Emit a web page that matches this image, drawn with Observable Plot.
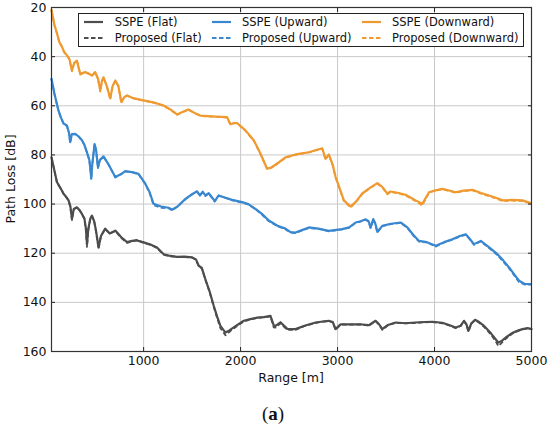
<!DOCTYPE html>
<html>
<head>
<meta charset="utf-8">
<script src="https://cdn.jsdelivr.net/npm/d3@7"></script>
<script src="https://cdn.jsdelivr.net/npm/@observablehq/plot@0.6"></script>
<style>
  html, body { margin: 0; padding: 0; background: #fff; }
  #wrap { position: relative; width: 550px; height: 425px; font-family: "DejaVu Sans", sans-serif; }
  #legend { position: absolute; left: 78px; top: 13px; width: 446px; height: 34px; border: 1px solid #222; background: #fff; box-sizing: border-box; }
  .li { position: absolute; font-size: 11.5px; color: #111; white-space: nowrap; line-height: 14px; }
  .sw { position: absolute; }
  #ylab { position: absolute; left: 10px; top: 179px; transform: translate(-50%, -50%) rotate(-90deg); font-size: 12.5px; color: #111; white-space: nowrap; }
  #xlab { position: absolute; left: 291px; top: 377px; transform: translate(-50%, -50%); font-size: 12.5px; color: #111; white-space: nowrap; }
  #cap { position: absolute; left: 273px; top: 414px; transform: translate(-50%, -50%); font-family: "Liberation Serif", "DejaVu Serif", serif; font-size: 19px; color: #111; white-space: nowrap; }
</style>
</head>
<body>
<div id="wrap"></div>
<script>
// ---------- data ----------
const xTicks = [1000, 2000, 3000, 4000, 5000];
const yTicks = [20, 40, 60, 80, 100, 120, 140, 160];

const flatR = [50, 106, 150, 174, 200, 226, 245, 261, 280, 312, 340, 364, 390, 405, 416, 430, 450, 467, 490, 510, 535, 560, 604, 650, 708, 770, 829, 880, 932, 1000, 1070, 1138, 1207, 1260, 1345, 1420, 1500, 1540, 1568, 1600, 1637, 1680, 1723, 1760, 1792, 1844, 1880, 1929, 2033, 2100, 2171, 2240, 2308, 2342, 2360, 2411, 2481, 2566, 2660, 2773, 2850, 2910, 2950, 2980, 3031, 3150, 3250, 3323, 3392, 3430, 3461, 3520, 3599, 3700, 3800, 3900, 3978, 4080, 4150, 4218, 4270, 4304, 4330, 4349, 4380, 4418, 4460, 4511, 4580, 4630, 4659, 4700, 4735, 4800, 4860, 4907, 4960, 5000];
const flatSSPE = [81, 91, 94, 95.8, 97, 98.5, 101, 106, 102, 101.3, 102.5, 104, 106, 110, 116.2, 110, 106, 104.7, 107, 111, 117.6, 113, 110, 112, 110.8, 113.5, 115.5, 115, 114.8, 115.6, 116.5, 117.7, 120.4, 121, 121.5, 121.4, 121.7, 122.5, 125.1, 126, 130.6, 135.5, 141.4, 146, 149.6, 152.3, 151.5, 150.2, 147.5, 146.8, 146.2, 146, 145.5, 149.4, 149.6, 148.1, 150.8, 150.9, 149.5, 148.2, 147.8, 147.5, 148, 150.9, 148.9, 149, 149, 149.3, 147.5, 149, 150.9, 149.2, 148.2, 148.5, 148.2, 148, 147.9, 148.3, 149.2, 150.2, 149.5, 147.5, 149, 151.6, 148.5, 147.1, 148, 149.6, 152.5, 155, 156.4, 155.5, 154.3, 152.5, 151.5, 150.9, 150.5, 150.9];
const flatProp = [81, 91.2, 94, 95.8, 97.2, 98.5, 101.5, 106.5, 102, 101.5, 102.5, 104.2, 106, 111, 117.4, 110.5, 106, 104.9, 107, 111.5, 118.3, 113, 110.2, 112, 111, 113.8, 115.8, 115.2, 114.6, 115.8, 116.5, 117.9, 120.6, 121.2, 121.5, 121.6, 121.7, 122.8, 125.3, 126.2, 130.8, 135.8, 141.8, 146.6, 150.5, 153.4, 152.2, 150.6, 147.8, 146.9, 146.4, 146, 145.8, 150.2, 150.3, 148.5, 151.2, 151.2, 149.6, 148.4, 147.8, 147.6, 148.2, 151.2, 149, 149.1, 149, 149.5, 147.6, 149.2, 151.2, 149.3, 148.3, 148.5, 148.4, 148.1, 148, 148.5, 149.4, 150.5, 149.6, 147.7, 149.2, 152, 148.7, 147.3, 148.3, 150, 153, 155.8, 157.8, 156.2, 154.8, 152.8, 151.6, 151, 150.6, 150.9];

const upR = [50, 80, 122, 150, 174, 209, 230, 243, 260, 295, 330, 364, 390, 416, 440, 452, 460, 470, 494, 510, 529, 550, 587, 640, 708, 760, 811, 880, 948, 1017, 1060, 1103, 1180, 1258, 1293, 1350, 1431, 1500, 1551, 1580, 1610, 1637, 1671, 1700, 1733, 1774, 1850, 1913, 2016, 2080, 2153, 2220, 2291, 2380, 2463, 2515, 2566, 2640, 2704, 2800, 2910, 3048, 3120, 3186, 3240, 3289, 3320, 3341, 3368, 3390, 3410, 3461, 3550, 3650, 3720, 3780, 3840, 3920, 4012, 4100, 4184, 4260, 4322, 4360, 4407, 4477, 4560, 4649, 4710, 4769, 4820, 4872, 4930, 4993];
const upSSPE = [49, 55, 62, 65, 67.2, 68, 71, 74.8, 71.5, 71.4, 72.5, 74, 76, 79, 82, 86, 89.6, 84, 75.6, 78, 85, 82, 80.6, 84, 89, 88, 86.6, 87, 87.7, 91.7, 95, 99.9, 101, 101.5, 102.3, 101, 97.9, 96, 94.8, 96.5, 95, 96.5, 95.6, 97, 98.8, 96.5, 97.5, 98.3, 99.2, 100, 102, 104, 106.7, 108.8, 110, 111.4, 111.6, 110.5, 109.5, 110, 110.9, 110.2, 109.5, 107.5, 107, 106.2, 107, 109.5, 106.1, 108, 111.3, 108.9, 108, 107.5, 109.5, 112.5, 115, 115.5, 117, 115.5, 114.3, 113, 112.3, 114, 116.3, 115, 117.5, 120.4, 123, 125.8, 128.5, 131.2, 132.5, 132.6];
const upProp = [49, 55.2, 62, 65.2, 67.2, 68.3, 71, 75.2, 71.5, 71.6, 72.5, 74.2, 76, 79.3, 82, 86.5, 90, 84, 75.8, 78.2, 85.4, 82, 80.8, 84, 89.2, 88, 86.8, 87, 87.9, 91.9, 95.3, 100.5, 101.5, 101.7, 102.6, 101, 98.1, 96, 95, 96.5, 95.2, 96.7, 95.6, 97.2, 99, 96.6, 97.5, 98.5, 99.4, 100.2, 102, 104.3, 107, 109, 110.3, 111.6, 111.8, 110.6, 109.8, 110, 111.1, 110.3, 109.6, 107.7, 107, 106.4, 107.2, 109.8, 106.3, 108.2, 111.6, 109, 108.2, 107.6, 109.7, 112.8, 115.3, 115.6, 117.3, 115.6, 114.5, 113.2, 112.5, 114.2, 116.6, 115.2, 117.8, 120.8, 123.5, 126.2, 129, 131.8, 132.8, 132.8];

const downR = [50, 80, 110, 130, 158, 180, 209, 235, 261, 285, 312, 346, 398, 440, 467, 501, 530, 553, 570, 587, 620, 656, 680, 708, 740, 770, 800, 829, 900, 1000, 1100, 1200, 1276, 1345, 1400, 1462, 1520, 1585, 1700, 1800, 1861, 1895, 1930, 1964, 2050, 2136, 2200, 2274, 2320, 2360, 2463, 2566, 2704, 2780, 2842, 2876, 2910, 2950, 2980, 3030, 3065, 3134, 3190, 3255, 3330, 3410, 3461, 3513, 3547, 3620, 3702, 3805, 3874, 3943, 4000, 4081, 4150, 4218, 4300, 4391, 4480, 4563, 4640, 4700, 4800, 4907, 4993];
const downSSPE = [21, 27, 31, 34, 36, 38, 39.5, 41, 45.6, 42.5, 41.6, 47, 46.3, 47, 47.7, 46.3, 49, 53.8, 50, 48.4, 52, 57, 52, 49.7, 52, 58.5, 56.5, 55.8, 57, 57.8, 58.6, 59.8, 61.5, 63.5, 62.5, 61.5, 62.8, 64, 64.3, 64.5, 64.6, 67.5, 67, 67, 70, 74, 79, 85.6, 85, 84, 81, 79.8, 78.9, 78, 77.3, 81.6, 79.8, 84, 89, 94.5, 98.5, 101, 99, 95.7, 93.5, 91.5, 93, 95.7, 94.9, 95.4, 96.2, 98.5, 99.9, 95.2, 94.5, 93.8, 94.5, 95.2, 94.5, 94.2, 95.5, 96.5, 97.5, 98.5, 98.3, 98.5, 99.6];
const downProp = [21, 27.2, 31, 34.2, 36, 38.2, 39.5, 41.2, 46, 42.5, 41.8, 47.3, 46.3, 47.2, 47.9, 46.3, 49.2, 54.2, 50, 48.6, 52, 57.4, 52, 49.9, 52, 58.8, 56.5, 55.9, 57, 58, 58.7, 59.9, 61.6, 63.7, 62.6, 61.6, 62.9, 64.2, 64.4, 64.6, 64.8, 67.7, 67.2, 67.1, 70.2, 74.3, 79.3, 85.9, 85.2, 84.2, 81.2, 80, 79, 78.1, 77.5, 81.9, 80, 84.3, 89.3, 94.8, 98.8, 101.4, 99.2, 95.9, 93.6, 91.7, 93.2, 96, 95.1, 95.6, 96.5, 98.8, 100.6, 95.4, 94.6, 94, 94.7, 95.4, 94.7, 94.4, 95.8, 96.8, 97.8, 98.8, 98.6, 98.8, 99.8];

const colFlat = "#4d4d4d", colUp = "#3987cf", colDown = "#ef9a30";

// ---------- tables ----------
const mk = (R, V) => R.map((r, i) => ({r, v: V[i]}));
const series = [
  {name: "SSPE (Flat)", data: mk(flatR, flatSSPE), color: colFlat, dash: null},
  {name: "SSPE (Upward)", data: mk(upR, upSSPE), color: colUp, dash: null},
  {name: "SSPE (Downward)", data: mk(downR, downSSPE), color: colDown, dash: null},
  {name: "Proposed (Flat)", data: mk(flatR, flatProp), color: colFlat, dash: "4.5,2.5"},
  {name: "Proposed (Upward)", data: mk(upR, upProp), color: colUp, dash: "4.5,2.5"},
  {name: "Proposed (Downward)", data: mk(downR, downProp), color: colDown, dash: "4.5,2.5"}
];

const lineMarks = series.map(s => Plot.line(s.data, {
  x: "r", y: "v", stroke: s.color,
  strokeWidth: s.dash ? 1.8 : 2.2,
  strokeDasharray: s.dash ?? undefined,
  strokeLinejoin: "round", strokeLinecap: s.dash ? "butt" : "round"
}));

const chart = Plot.plot({
  width: 550, height: 392,
  marginTop: 7, marginBottom: 41, marginLeft: 51, marginRight: 19,
  style: {fontFamily: "DejaVu Sans, sans-serif", fontSize: "12.5px", color: "#111", background: "transparent"},
  x: {domain: [50, 5000], ticks: xTicks},
  y: {domain: [20, 160], reverse: true, ticks: yTicks},
  marks: [
    Plot.gridX(xTicks, {stroke: "#c9c9c9", strokeOpacity: 1, strokeWidth: 1}),
    Plot.gridY(yTicks, {stroke: "#c9c9c9", strokeOpacity: 1, strokeWidth: 1}),
    ...lineMarks,
    Plot.axisX(xTicks, {anchor: "bottom", tickSize: -4, tickPadding: 8.6, label: null, tickFormat: d => String(d), stroke: "#222", fill: "#111"}),
    Plot.axisX(xTicks, {anchor: "top", tickSize: -4, tickFormat: () => "", label: null, stroke: "#222"}),
    Plot.axisY(yTicks, {anchor: "left", tickSize: -4, tickPadding: 9, label: null, tickFormat: d => String(d), stroke: "#222", fill: "#111"}),
    Plot.axisY(yTicks, {anchor: "right", tickSize: -4, tickFormat: () => "", label: null, stroke: "#222"}),
    Plot.frame({stroke: "#333", strokeWidth: 1.2})
  ]
});

const wrap = document.getElementById("wrap");
chart.style.position = "absolute";
chart.style.left = "0px";
chart.style.top = "0px";
wrap.appendChild(chart);

// ---------- legend ----------
const legend = document.createElement("div");
legend.id = "legend";
const legendCols = [
  {lineX: 84, textX: 114.7, names: ["SSPE (Flat)", "Proposed (Flat)"], color: colFlat},
  {lineX: 212, textX: 242, names: ["SSPE (Upward)", "Proposed (Upward)"], color: colUp},
  {lineX: 362, textX: 392, names: ["SSPE (Downward)", "Proposed (Downward)"], color: colDown}
];
const rowsY = [21.8, 37.6];
legendCols.forEach(c => {
  c.names.forEach((n, j) => {
    const sw = document.createElementNS("http://www.w3.org/2000/svg", "svg");
    sw.setAttribute("width", "20"); sw.setAttribute("height", "6");
    sw.setAttribute("class", "sw");
    sw.style.left = (c.lineX - 78 - 1) + "px";
    sw.style.top = (rowsY[j] - 13 - 1 - 3) + "px";
    const ln = document.createElementNS("http://www.w3.org/2000/svg", "line");
    ln.setAttribute("x1", "0"); ln.setAttribute("x2", "19");
    ln.setAttribute("y1", "3"); ln.setAttribute("y2", "3");
    ln.setAttribute("stroke", c.color);
    ln.setAttribute("stroke-width", j === 0 ? "2.2" : "1.8");
    if (j === 1) ln.setAttribute("stroke-dasharray", "4.5,2.5");
    sw.appendChild(ln);
    legend.appendChild(sw);
    const t = document.createElement("div");
    t.className = "li";
    t.textContent = n;
    t.style.left = (c.textX - 78 - 1) + "px";
    t.style.top = (rowsY[j] - 13 - 1 - 7) + "px";
    legend.appendChild(t);
  });
});
wrap.appendChild(legend);

const yl = document.createElement("div"); yl.id = "ylab"; yl.textContent = "Path Loss [dB]"; wrap.appendChild(yl);
const xl = document.createElement("div"); xl.id = "xlab"; xl.textContent = "Range [m]"; wrap.appendChild(xl);
const cap = document.createElement("div"); cap.id = "cap"; cap.innerHTML = "(<b>a</b>)"; wrap.appendChild(cap);
</script>
</body>
</html>
